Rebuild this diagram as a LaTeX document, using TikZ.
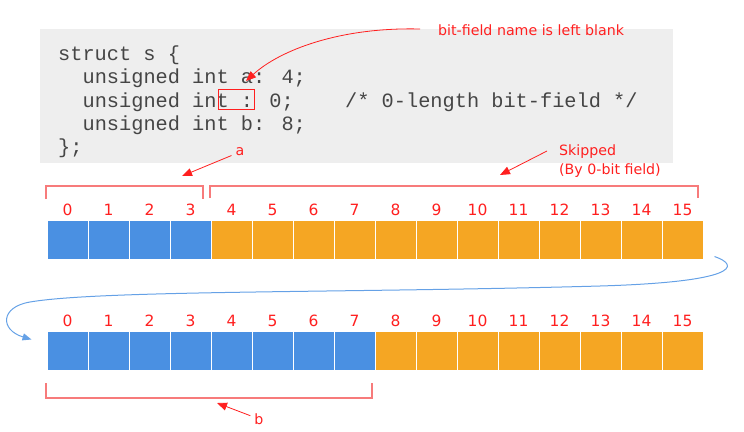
\documentclass[tikz,border=0pt]{standalone}
\usepackage{fontspec}
\setmainfont{DejaVu Sans}
\newfontfamily\codefont{Liberation Mono}
\usetikzlibrary{calc,arrows.meta,positioning}
\definecolor{redx}{HTML}{FF1F1F}
\definecolor{brx}{HTML}{F77B7B}
\definecolor{bluex}{HTML}{4A90E2}
\definecolor{orangex}{HTML}{F5A623}
\definecolor{codebg}{HTML}{EEEEEE}
\definecolor{codefg}{HTML}{454545}
\tikzset{
  cell/.style={draw=white,line width=1pt,minimum width=41pt,minimum height=39pt,inner sep=0pt},
  num/.style={text=redx,font=\fontsize{15.5}{17}\selectfont,inner sep=1pt},
  code/.style={text=codefg,font=\codefont\fontsize{20.3}{24}\selectfont,inner sep=0pt,anchor=base west},
  lbl/.style={text=redx,font=\fontsize{14.2}{19}\selectfont,inner sep=4pt},
  ar/.style={-{Triangle[length=10pt,width=8pt]},redx,line width=0.8pt},
  br/.style={brx,line width=1.5pt},
  wrap/.style={-{Triangle[length=9pt,width=7pt]},bluex!85,line width=1pt}
}
\begin{document}
\begin{tikzpicture}[x=1pt,y=-1pt]
\useasboundingbox (0,0) rectangle (744,431);
% code snippet
\fill[codebg] (40,29) rectangle (673,163);
\node[code] (c1) at (58,60) {struct s \{};
\node[code] (c2) at (82.4,83.5) {unsigned int a: 4;};
\node[code] (c3) at (82.4,107) {unsigned int : 0;};
\node[code] (c4) at (345,107) {/* 0-length bit-field */};
\node[code] (c5) at (82.4,130.5) {unsigned int b: 8;};
\node[code] (c6) at (58,153) {\};};
\node[draw=redx,line width=0.8pt,minimum width=36pt,minimum height=20pt,inner sep=0pt] (gap) at (236,99) {};
\node[lbl,anchor=west] (lblank) at (434,30) {bit-field name is left blank};
\coordinate (blanktip) at (246,81);
\draw[ar] ($(lblank.west)+(-14,-1)$) .. controls (340,27) and (280,50) .. (blanktip);
% bit rows
\foreach \i in {0,...,15}{
  \ifnum\i<4 \def\cc{bluex}\else\def\cc{orangex}\fi
  \node[cell,fill=\cc] (t\i) at (67.5+41*\i,239.5) {};
  \node[num,above=3pt of t\i] (tn\i) {\i};
}
\foreach \i in {0,...,15}{
  \ifnum\i<8 \def\cc{bluex}\else\def\cc{orangex}\fi
  \node[cell,fill=\cc] (b\i) at (67.5+41*\i,350.5) {};
  \node[num,above=3pt of b\i] (bn\i) {\i};
}
% brackets
\draw[br] (46,199) |- (203,186) -- (203,199);
\draw[br] (210,198) |- (698,186) -- (698,198);
\draw[br] (46,383) |- (372,398) -- (372,383);
\node[lbl] (la) at (240,152) {a};
\coordinate (atip) at (182,176);
\draw[ar] (la) -- (atip);
\node[lbl,align=left,anchor=north west] (skip) at (555,141) {Skipped\\(By 0-bit field)};
\coordinate (skiptip) at (500,175);
\draw[ar] ($(skip.north west)+(-8,10)$) -- (skiptip);
\node[lbl] (lb) at (259,419) {b};
\coordinate (btip) at (217,403);
\draw[ar] (lb) -- (btip);
% wrap to next unit
\coordinate (wrapstart) at ($(t15.south east)+(11,-3)$);
\coordinate (wraptip) at ($(b0.west)+(-15,-11)$);
\draw[wrap] (wrapstart) .. controls (742,266) and (735,282) .. (600,286)
  .. controls (350,293) and (100,290) .. (30,302)
  .. controls (0,307) and (0,330) .. (wraptip);
\end{tikzpicture}
\end{document}
